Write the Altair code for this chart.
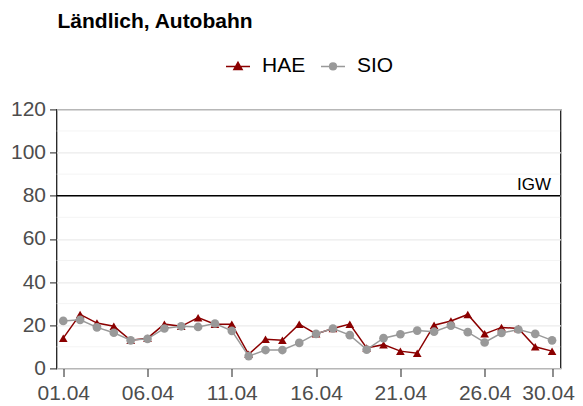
import altair as alt
import pandas as pd

days = list(range(1, 31))
hae = [14, 25, 21, 19.5, 13, 14, 20.5, 19.5, 23.5, 20.5,
       20.5, 6.5, 13.5, 13, 20.5, 16, 18.5, 20.5, 9.5, 11,
       8, 7, 20, 22, 25, 16, 19, 18.5, 10, 8]
sio = [22, 22.5, 19, 16.5, 13, 13.7, 18.5, 19.5, 19.2, 20.8,
       17.4, 5.7, 8.5, 8.5, 11.8, 16, 18.5, 15.4, 8.7, 14,
       15.8, 17.5, 17, 19.8, 16.8, 12, 16.4, 18, 16, 13]
series_names = ["HAE", "SIO"]
series_colors = ["#8b0000", "#999999"]
series_shapes = ["triangle-up", "circle"]
tick_days = [1, 6, 11, 16, 21, 26, 30]
y_major = [0, 20, 40, 60, 80, 100, 120]
y_minor = [10, 30, 50, 70, 90, 110]
igw_value = [80]
igw_label = ["IGW"]

FONT = "Liberation Sans"

df = pd.DataFrame({
    "day": days * 2,
    "value": hae + sio,
    "series": ["HAE"] * len(hae) + ["SIO"] * len(sio),
    "marker": [series_shapes[0]] * len(hae) + [series_shapes[1]] * len(sio),
})
minor_df = pd.DataFrame({"value": y_minor})
igw_df = pd.DataFrame({"value": igw_value, "label": igw_label})

x_scale = alt.Scale(domain=[0.6, 30.5], nice=False, zero=False)
y_scale = alt.Scale(domain=[0, 120], nice=False)
color_scale = alt.Scale(domain=series_names, range=series_colors)

# legend key glyphs: a line with a (densely outlined) marker on it
hae_key = ("M-1,0H1 M0,-0.34L0.34,0.25L-0.34,0.25Z "
           "M0,-0.18L0.2,0.16L-0.2,0.16Z M0,-0.03L0.07,0.08L-0.07,0.08Z")
sio_key = ("M-1,0H1 M0.28,0A0.28,0.28,0,1,1,-0.28,0A0.28,0.28,0,1,1,0.28,0Z "
           "M0.17,0A0.17,0.17,0,1,1,-0.17,0A0.17,0.17,0,1,1,0.17,0Z "
           "M0.06,0A0.06,0.06,0,1,1,-0.06,0A0.06,0.06,0,1,1,0.06,0Z")
legend_shape_scale = alt.Scale(domain=series_names, range=[hae_key, sio_key])

legend = alt.Legend(
    title=None,
    orient="none",
    legendX=168.5,
    legendY=-56,
    direction="horizontal",
    labelFont=FONT,
    labelFontSize=21,
    labelColor="black",
    labelOffset=11,
    columnPadding=12,
    symbolSize=576,
    symbolStrokeWidth=1.5,
    symbolOpacity=1,
    padding=0,
)

x_enc = alt.X(
    "day:Q",
    scale=x_scale,
    title=None,
    axis=alt.Axis(
        values=tick_days,
        labelExpr="(datum.value < 10 ? '0' : '') + datum.value + '.04'",
        grid=False,
        domain=False,
        tickColor="#333333",
        tickSize=8,
        tickWidth=1.1,
        labelPadding=6,
        labelOffset={"condition": {"test": "datum.value == 30", "value": -4}, "value": 0},
        labelFont=FONT,
        labelFontSize=21,
        labelColor="#4d4d4d",
    ),
)
y_enc = alt.Y(
    "value:Q",
    scale=y_scale,
    title=None,
    axis=alt.Axis(
        values=y_major,
        grid=True,
        gridColor="#ebebeb",
        gridWidth=1.1,
        domain=False,
        tickColor="#333333",
        tickSize=7,
        tickWidth=1.1,
        labelPadding=4,
        labelFont=FONT,
        labelFontSize=21,
        labelColor="#4d4d4d",
    ),
)

legend_layer = alt.Chart(df).transform_filter("false").mark_point(
    filled=False, opacity=1, strokeWidth=1.5
).encode(
    x=x_enc,
    y=y_enc,
    color=alt.Color("series:N", scale=color_scale, legend=legend),
    shape=alt.Shape("series:N", scale=legend_shape_scale, legend=legend),
)

minor = alt.Chart(minor_df).mark_rule(color="#ebebeb", strokeWidth=0.6).encode(
    y=alt.Y("value:Q", scale=y_scale)
)

igw_rule = alt.Chart(igw_df).mark_rule(color="black", strokeWidth=1.3).encode(
    y=alt.Y("value:Q", scale=y_scale)
)
igw_text = alt.Chart(igw_df).mark_text(
    align="right", baseline="alphabetic", dy=-6, font=FONT, fontSize=17, color="black"
).encode(
    x=alt.value(494.5),
    y=alt.Y("value:Q", scale=y_scale),
    text="label:N",
)

lines = alt.Chart(df).mark_line(strokeWidth=1.5).encode(
    x=alt.X("day:Q", scale=x_scale),
    y=alt.Y("value:Q", scale=y_scale),
    color=alt.Color("series:N", scale=color_scale, legend=None),
    detail="series:N",
)
points = alt.Chart(df).mark_point(filled=True, size=75, opacity=1).encode(
    x=alt.X("day:Q", scale=x_scale),
    y=alt.Y("value:Q", scale=y_scale),
    color=alt.Color("series:N", scale=color_scale, legend=None),
    shape=alt.Shape("marker:N", scale=None),
)

chart = alt.layer(legend_layer, minor, igw_rule, lines, points, igw_text).properties(
    width=504,
    height=259,
    padding={"left": 48.5, "top": 101.4, "right": 14.5, "bottom": 36},
    autosize=alt.AutoSizeParams(type="none"),
    title=alt.TitleParams(
        "Ländlich, Autobahn",
        anchor="start",
        frame="group",
        font=FONT,
        fontSize=21,
        fontWeight="bold",
        color="black",
        dx=1,
        offset=21,
    ),
).configure_view(
    stroke="#1f1f1f", strokeWidth=1.3
)

chart.save("out.html", embed_options={"renderer": "svg", "actions": False})
